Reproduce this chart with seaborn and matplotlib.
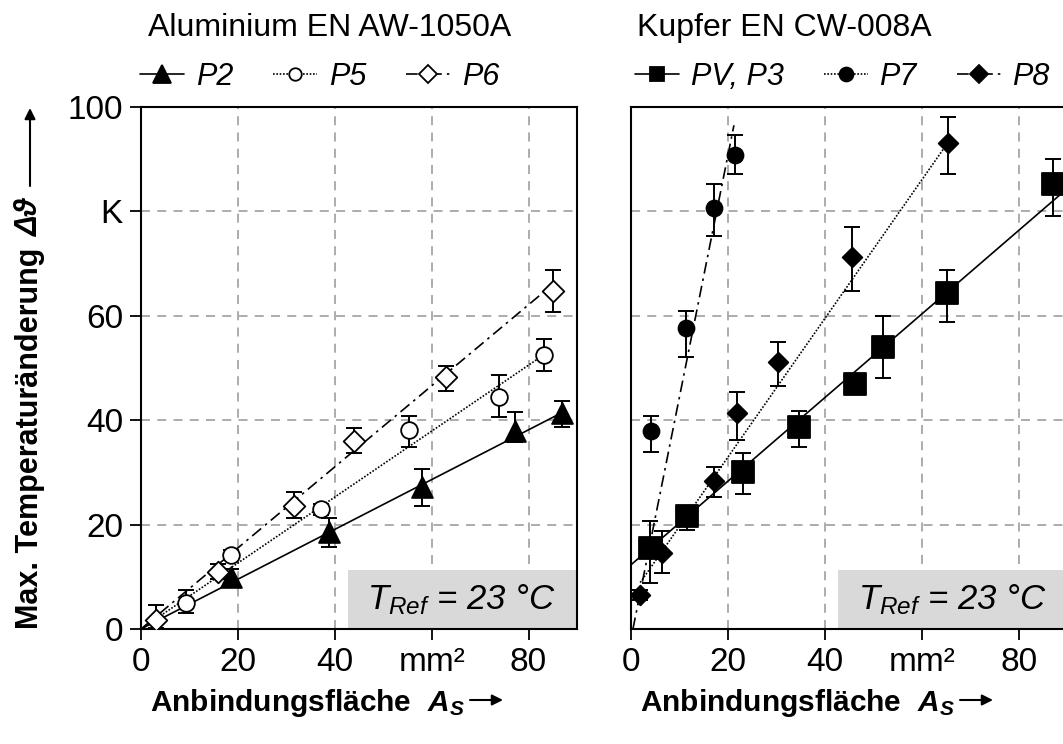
import numpy as np
import pandas as pd
import matplotlib
matplotlib.use("Agg")
import matplotlib.pyplot as plt
import seaborn as sns
from matplotlib.lines import Line2D
from matplotlib.patches import Rectangle, FancyArrowPatch

# --- Aluminium EN AW-1050A ---
p2_x = [18.6, 38.8, 58.1, 77.3, 87.0]
p2_y = [10.0, 18.5, 27.2, 38.0, 41.3]
p2_lo = [1.5, 2.7, 3.7, 2.2, 2.6]
p2_hi = [1.5, 2.8, 3.4, 3.5, 2.4]
p2_fit_x = [0, 87.0]
p2_fit_y = [0, 41.5]

p5_x = [9.3, 18.6, 37.1, 55.3, 73.8, 83.1]
p5_y = [5.0, 14.2, 22.9, 38.2, 44.5, 52.5]
p5_lo = [1.9, 1.0, 1.0, 3.4, 3.9, 3.1]
p5_hi = [2.5, 1.0, 1.0, 2.6, 4.2, 3.1]
p5_fit_x = [0, 83.1]
p5_fit_y = [0, 52.5]

p6_x = [3.1, 15.9, 31.5, 43.9, 62.9, 85.0]
p6_y = [1.7, 11.0, 23.5, 36.0, 48.3, 64.8]
p6_lo = [1.5, 1.5, 2.2, 2.2, 2.7, 4.0]
p6_hi = [2.9, 1.5, 2.7, 2.5, 2.1, 3.9]
p6_fit_x = [0, 85.0]
p6_fit_y = [0, 66.0]

# --- Kupfer EN CW-008A ---
pv_x = [3.9, 11.5, 23.1, 34.6, 46.2, 52.0, 65.0, 87.0]
pv_y = [15.5, 21.7, 30.0, 38.7, 46.9, 54.0, 64.4, 85.2]
pv_lo = [6.7, 2.7, 4.2, 3.9, 1.0, 5.9, 5.6, 6.0]
pv_hi = [5.1, 1.8, 3.8, 3.0, 1.0, 6.0, 4.4, 4.8]
pv_fit_x = [0, 90.0]
pv_fit_y = [12.3, 84.5]

p7_x = [4.1, 11.3, 17.1, 21.4]
p7_y = [37.9, 57.7, 80.6, 90.8]
p7_lo = [3.9, 5.6, 5.4, 3.7]
p7_hi = [2.9, 3.3, 4.6, 3.8]
p7_fit_x = [0.4, 21.2]
p7_fit_y = [0, 96.5]

p8_x = [1.9, 6.4, 17.1, 21.8, 30.3, 45.6, 65.2]
p8_y = [6.5, 14.6, 28.3, 41.3, 51.2, 71.3, 93.1]
p8_lo = [1.0, 3.8, 3.1, 5.0, 4.7, 6.5, 6.0]
p8_hi = [1.0, 4.2, 2.7, 4.1, 3.8, 5.8, 5.0]
p8_fit_x = [1.9, 65.2]
p8_fit_y = [8.9, 93.1]

x_ticks = [0, 20, 40, 60, 80]
x_ticklabels = ['0', '20', '40', 'mm²', '80']
y_ticks = [0, 20, 40, 60, 80, 100]
y_ticklabels = ['0', '20', '40', '60', 'K', '100']

sns.set_style("ticks")
plt.rcParams['font.family'] = ['Liberation Sans', 'DejaVu Sans']
plt.rcParams['text.color'] = 'black'
plt.rcParams['axes.labelcolor'] = 'black'
plt.rcParams['xtick.color'] = 'black'
plt.rcParams['ytick.color'] = 'black'
plt.rcParams['mathtext.fontset'] = 'custom'
plt.rcParams['mathtext.rm'] = 'Liberation Sans'
plt.rcParams['mathtext.it'] = 'Liberation Sans:italic'
plt.rcParams['mathtext.bf'] = 'Liberation Sans:bold'
plt.rcParams['mathtext.bfit'] = 'Liberation Sans:italic:bold'

W, H = 1063, 744
fig = plt.figure(figsize=(W / 100, H / 100), dpi=100)


def px(x0, y0, x1, y1):
    return [x0 / W, 1 - y1 / H, (x1 - x0) / W, (y1 - y0) / H]


ax1 = fig.add_axes(px(141, 107, 577, 629))
ax2 = fig.add_axes(px(631, 107, 1068, 629))

DASHDOT = (0, (7, 3, 1.5, 3))
DOTTED = (0, (1, 1))
LW = 1.2


def draw(ax, x, y, lo, hi, fx, fy, marker, ms, face, ls):
    df = pd.DataFrame({'x': x, 'y': y})
    sns.lineplot(x=fx, y=fy, ax=ax, color='black', lw=LW, linestyle=ls, zorder=2)
    ax.errorbar(x, y, yerr=[lo, hi], fmt='none', ecolor='black',
                elinewidth=1.4, capsize=6, capthick=1.4, zorder=3)
    sns.scatterplot(data=df, x='x', y='y', ax=ax, marker=marker, s=ms ** 2,
                    color=face, edgecolor='black', linewidth=1.3, zorder=4)


draw(ax1, p2_x, p2_y, p2_lo, p2_hi, p2_fit_x, p2_fit_y, '^', 15, 'black', '-')
draw(ax1, p5_x, p5_y, p5_lo, p5_hi, p5_fit_x, p5_fit_y, 'o', 12, 'white', DOTTED)
draw(ax1, p6_x, p6_y, p6_lo, p6_hi, p6_fit_x, p6_fit_y, 'D', 11, 'white', DASHDOT)

draw(ax2, pv_x, pv_y, pv_lo, pv_hi, pv_fit_x, pv_fit_y, 's', 15.5, 'black', '-')
draw(ax2, p7_x, p7_y, p7_lo, p7_hi, p7_fit_x, p7_fit_y, 'o', 11.5, 'black', DASHDOT)
draw(ax2, p8_x, p8_y, p8_lo, p8_hi, p8_fit_x, p8_fit_y, 'D', 10, 'black', DOTTED)

for ax in (ax1, ax2):
    ax.set_xlim(0, 90)
    ax.set_ylim(0, 100)
    ax.set_xticks(x_ticks)
    ax.set_xticklabels(x_ticklabels)
    ax.set_yticks(y_ticks)
    ax.set_xlabel('')
    ax.set_ylabel('')
    ax.set_axisbelow(True)
    ax.grid(True, color='#a6a6a6', linestyle=(0, (5, 4)), lw=1.3)
    ax.tick_params(direction='out', length=8, width=1.3, labelsize=24,
                   colors='black', pad=5)
    for s in ax.spines.values():
        s.set_color('black')
        s.set_linewidth(1.5)
    ax.add_patch(Rectangle((0.474, 0), 0.6, 0.113, transform=ax.transAxes,
                           facecolor='#d9d9d9', edgecolor='none', zorder=1))
    ax.text(0.735, 0.056, r'$T_{Ref}$ = 23 °C', transform=ax.transAxes,
            ha='center', va='center', fontsize=25, style='italic', zorder=5)

ax1.set_yticklabels(y_ticklabels)
ax2.tick_params(axis='y', length=0, labelleft=False)

# titles
fig.text(148 / W, 1 - 28 / H, 'Aluminium EN AW-1050A', fontsize=23, va='center')
fig.text(637 / W, 1 - 28 / H, 'Kupfer EN CW-008A', fontsize=23, va='center')


# legends
def handle(marker, ms, face, ls):
    return Line2D([], [], color='black', lw=LW, linestyle=ls, marker=marker,
                  markersize=ms, markerfacecolor=face, markeredgecolor='black',
                  markeredgewidth=1.3)


leg_kw = dict(loc='center left', ncol=3, frameon=False,
              handlelength=1.45, handletextpad=0.38, columnspacing=1.3,
              borderaxespad=0, borderpad=0, prop={'style': 'italic', 'size': 22})
fig.legend([handle('^', 13, 'black', '-'), handle('o', 9, 'white', DOTTED),
            handle('D', 9, 'white', DASHDOT)], ['P2', 'P5', 'P6'],
           bbox_to_anchor=(140 / W, 1 - 77 / H), **leg_kw)
fig.legend([handle('s', 10, 'black', '-'), handle('o', 10, 'black', DOTTED),
            handle('D', 9, 'black', DASHDOT)], ['PV, P3', 'P7', 'P8'],
           bbox_to_anchor=(635 / W, 1 - 77 / H), **leg_kw)

# axis labels
for x0 in (150, 640):
    fig.text(x0 / W, 1 - 703 / H, r'Anbindungsfläche  $\mathbfit{A}_{\mathbfit{S}}$',
             fontsize=21.5, fontweight='bold', va='center')
fig.text(30 / W, 1 - 629 / H, 'Max. Temperaturänderung', rotation=90,
         fontsize=22, fontweight='bold', ha='center', va='bottom')
fig.text(30 / W, 1 - 217 / H, 'Δϑ', rotation=90, fontsize=22, fontweight='bold',
         style='italic', ha='center', va='center')

arrow = dict(arrowstyle='-|>', color='black', lw=1.5, mutation_scale=16,
             shrinkA=0, shrinkB=0)
for x0 in (470, 960):
    fig.add_artist(FancyArrowPatch(
        (x0 / W, 1 - 700 / H), ((x0 + 33) / W, 1 - 700 / H),
        transform=fig.transFigure, **arrow))
fig.add_artist(FancyArrowPatch(
    (30 / W, 1 - 186 / H), (30 / W, 1 - 108 / H),
    transform=fig.transFigure, **arrow))

fig.savefig('out.png', dpi=100)
